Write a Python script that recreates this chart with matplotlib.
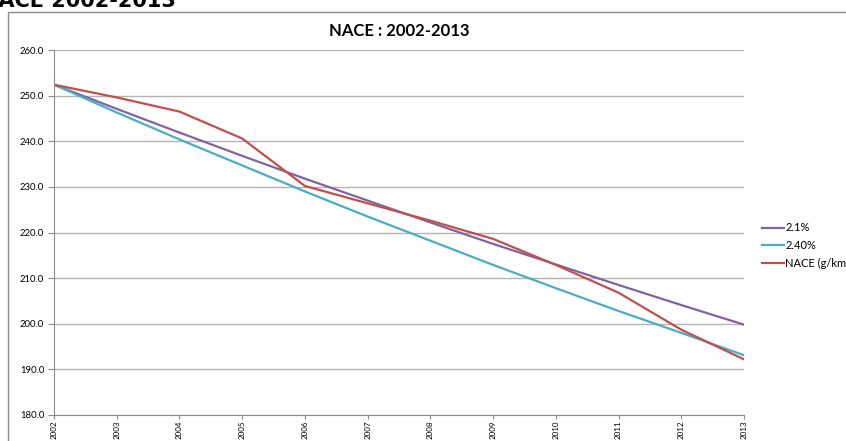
"""NACE CO2 trend 2002-2013 against 2.1% and 2.4% annual reduction paths."""

import matplotlib.patches as patches
import matplotlib.pyplot as plt

YEARS = [2002, 2003, 2004, 2005, 2006, 2007, 2008, 2009, 2010, 2011, 2012, 2013]
PATH_21 = [252.4, 247.1, 241.9, 236.8, 231.8, 227.0, 222.2, 217.5, 213.0, 208.5, 204.1, 199.8]
PATH_24 = [252.4, 246.3, 240.4, 234.7, 229.0, 223.5, 218.2, 212.9, 207.8, 202.8, 198.0, 193.1]
NACE = [252.4, 249.6, 246.5, 240.6, 230.2, 226.4, 222.6, 218.6, 212.9, 206.8, 198.7, 192.2]
Y_TICKS = [180, 190, 200, 210, 220, 230, 240, 250, 260]

PURPLE = "#8064A2"
CYAN = "#4BACC6"
RED = "#C0504D"
GRID = "#b4b4b4"
FONT = ["Lato", "DejaVu Sans"]

plt.rcParams["font.family"] = FONT

fig = plt.figure(figsize=(8.46, 4.41), dpi=100)

# outer chart frame, running off the right and bottom edges
top = 1 - 12 / 441
frame = patches.Rectangle((8 / 846, -0.2), 1.2, top + 0.2,
                          transform=fig.transFigure, fill=False,
                          edgecolor="#8c8c8c", linewidth=1.0, clip_on=False)
fig.patches.append(frame)

# section heading, clipped by the top edge
fig.text(-0.022, 1 - 7 / 441, "NACE 2002-2013", fontsize=15, fontweight="bold",
         family=["DejaVu Sans"], ha="left", va="baseline")

ax = fig.add_axes([54 / 846, 1 - 415 / 441, (744 - 54) / 846, (415 - 50) / 441])

ax.plot(range(len(YEARS)), PATH_21, color=PURPLE, lw=1.6, label="2.1%")
ax.plot(range(len(YEARS)), PATH_24, color=CYAN, lw=1.6, label="2.40%")
ax.plot(range(len(YEARS)), NACE, color=RED, lw=1.6, label="NACE (g/km)")

ax.set_xlim(0, len(YEARS) - 1)
ax.set_ylim(180, 260)
ax.set_yticks(Y_TICKS)
ax.set_yticklabels([f"{v:.1f}" for v in Y_TICKS], fontsize=6.8)
ax.set_xticks(range(len(YEARS)))
ax.set_xticklabels([str(y) for y in YEARS], rotation=90, fontsize=5.8)

ax.grid(axis="y", color=GRID, linewidth=1.0)
ax.set_axisbelow(True)
for side in ("top", "right"):
    ax.spines[side].set_visible(False)
for side in ("left", "bottom"):
    ax.spines[side].set_color("#8c8c8c")
ax.tick_params(axis="y", color="#8c8c8c", length=4, width=0.8, pad=3)
ax.tick_params(axis="x", color="#8c8c8c", length=3, width=0.8, pad=1)

ax.set_title("NACE : 2002-2013", fontsize=12, fontweight="bold", pad=10)

fig.legend(loc="upper left", bbox_to_anchor=(758 / 846, 1 - 218 / 441),
           frameon=False, fontsize=8, handlelength=1.9, handletextpad=0.15,
           labelspacing=0.6, borderaxespad=0)

fig.savefig("out.png", dpi=100)
